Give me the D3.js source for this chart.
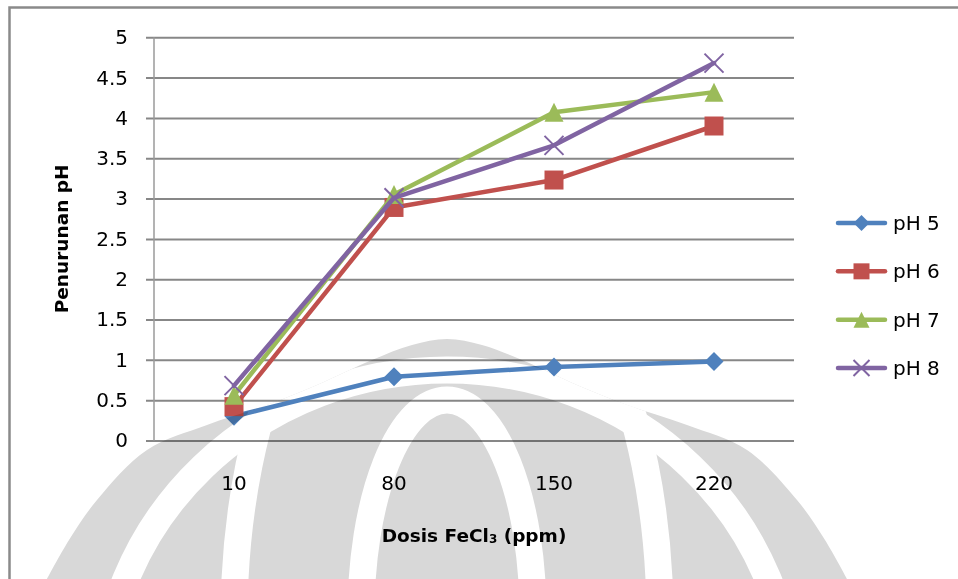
<!DOCTYPE html>
<html>
<head>
<meta charset="utf-8">
<script src="https://cdn.jsdelivr.net/npm/d3@7"></script>
<style>
  body { margin: 0; background: #fff; }
  svg { display: block; }
  text { font-family: "DejaVu Sans", "Noto Sans", sans-serif; fill: #000; }
</style>
</head>
<body>
<svg id="chart" width="958" height="579"></svg>
<script>
// FeCl3 dose (ppm) on the category axis
const categories = ["10", "80", "150", "220"];

// pH drop for each starting pH
const ph5 = [0.30, 0.79, 0.91, 0.98];
const ph6 = [0.42, 2.89, 3.23, 3.90];
const ph7 = [0.56, 3.05, 4.07, 4.32];
const ph8 = [0.68, 3.01, 3.66, 4.68];

const seriesNames = ["pH 5", "pH 6", "pH 7", "pH 8"];
const seriesColors = ["#4F81BD", "#C0504D", "#9BBB59", "#8064A2"];
const markerTypes = ["diamond", "square", "triangle", "cross"];

const yTicks = [0, 0.5, 1, 1.5, 2, 2.5, 3, 3.5, 4, 4.5, 5];

const series = [ph5, ph6, ph7, ph8].map((vals, i) => ({
  name: seriesNames[i], color: seriesColors[i], marker: markerTypes[i],
  points: vals.map((v, j) => ({ cat: categories[j], v }))
}));

const svg = d3.select("#chart");
const plot = { left: 154, right: 794, top: 37.3, bottom: 440.5 };

const x = d3.scaleBand().domain(categories).range([plot.left, plot.right]);
const cx = c => x(c) + x.bandwidth() / 2;
const y = d3.scaleLinear().domain([0, 5]).range([plot.bottom, plot.top]);

// chart frame
svg.append("rect")
  .attr("x", 9.5).attr("y", 7.5).attr("width", 1000).attr("height", 1000)
  .attr("fill", "none").attr("stroke", "#8a8a8a").attr("stroke-width", 2.5);

// value axis with horizontal gridlines
const yAxis = svg.append("g")
  .attr("transform", `translate(${plot.left},0)`)
  .call(d3.axisLeft(y).tickValues(yTicks).tickFormat(d => String(d))
    .tickSizeInner(8).tickSizeOuter(0).tickPadding(18));
yAxis.select(".domain").remove();
yAxis.selectAll(".tick line")
  .attr("x1", plot.right - plot.left)
  .attr("stroke", "#878787").attr("stroke-width", 2);
yAxis.selectAll(".tick text")
  .attr("font-size", 20).attr("font-family", "DejaVu Sans").attr("fill", "#000");

svg.append("line")
  .attr("x1", plot.left).attr("x2", plot.left)
  .attr("y1", y(5)).attr("y2", y(0))
  .attr("stroke", "#9a9a9a").attr("stroke-width", 1.5);

// category axis labels
const xAxis = svg.append("g")
  .attr("transform", `translate(0,${plot.bottom})`)
  .call(d3.axisBottom(x).tickSize(0).tickPadding(35));
xAxis.select(".domain").remove();
xAxis.selectAll(".tick text")
  .attr("font-size", 20).attr("font-family", "DejaVu Sans").attr("fill", "#000");

// axis titles
svg.append("text")
  .attr("transform", `translate(68,${(plot.top + plot.bottom) / 2}) rotate(-90)`)
  .attr("text-anchor", "middle")
  .attr("font-size", 18.5).attr("font-weight", "bold")
  .text("Penurunan pH");

const xt = svg.append("text")
  .attr("x", (plot.left + plot.right) / 2).attr("y", 542)
  .attr("text-anchor", "middle")
  .attr("font-size", 18.5).attr("font-weight", "bold");
xt.append("tspan").text("Dosis FeCl");
xt.append("tspan").attr("font-size", 12).attr("dy", 1).text("3");
xt.append("tspan").attr("dy", -1).text(" (ppm)");

// marker shapes
function markerPath(type, r) {
  switch (type) {
    case "diamond": return `M0,${-r}L${r},0L0,${r}L${-r},0Z`;
    case "square": return `M${-r},${-r}H${r}V${r}H${-r}Z`;
    case "triangle": return `M0,${-r}L${r},${r}L${-r},${r}Z`;
    default: return `M${-r},${-r}L${r},${r}M${-r},${r}L${r},${-r}`;
  }
}
function drawMarker(sel, type, color, r) {
  if (type === "cross") {
    sel.append("path").attr("d", markerPath(type, r))
      .attr("fill", "none").attr("stroke", color).attr("stroke-width", 2);
  } else {
    sel.append("path").attr("d", markerPath(type, r)).attr("fill", color);
  }
}

const line = d3.line().x(d => cx(d.cat)).y(d => y(d.v));

series.forEach(s => {
  const g = svg.append("g");
  g.append("path").datum(s.points).attr("d", line)
    .attr("fill", "none").attr("stroke", s.color).attr("stroke-width", 4.5)
    .attr("stroke-linejoin", "round").attr("stroke-linecap", "round");
  g.selectAll("g.m").data(s.points).join("g")
    .attr("class", "m")
    .attr("transform", d => `translate(${cx(d.cat)},${y(d.v)})`)
    .each(function () { drawMarker(d3.select(this), s.marker, s.color, 9.5); });
});

// legend
const legendY = d3.scalePoint().domain(seriesNames).range([223, 368]);
const legend = svg.append("g");
series.forEach(s => {
  const g = legend.append("g").attr("transform", `translate(0,${legendY(s.name)})`);
  g.append("line").attr("x1", 838).attr("x2", 885)
    .attr("stroke", s.color).attr("stroke-width", 4.5).attr("stroke-linecap", "round");
  const m = g.append("g").attr("transform", "translate(861.5,0)");
  drawMarker(m, s.marker, s.color, 8);
  g.append("text").attr("x", 893).attr("dy", "0.35em")
    .attr("font-size", 20).text(s.name);
});

// faint emblem printed behind the lower part of the page
const mid = 447;
const domePts = [[-400,579],[-378,540],[-350,500],[-300,450],[-240,425],[-180,405],[-130,385],
                 [-75,360],[-35,345],[0,339],[35,345],[75,360],[130,385],[180,405],[240,425],
                 [300,450],[350,500],[378,540],[400,579]];
const domeLine = d3.line().x(p => mid + p[0]).y(p => p[1]).curve(d3.curveCatmullRom);
const domeD = domeLine(domePts) + "L847,600L47,600Z";

const defs = svg.append("defs");
defs.append("clipPath").attr("id", "emblem-clip").append("path").attr("d", domeD);

const emblem = svg.append("g").style("mix-blend-mode", "multiply");
emblem.append("path").attr("d", domeD).attr("fill", "#d8d8d8");
const stripes = emblem.append("g").attr("clip-path", "url(#emblem-clip)")
  .attr("fill", "none").attr("stroke", "#fff").attr("stroke-width", 27);
stripes.append("ellipse").attr("cx", mid).attr("cy", 615).attr("rx", 86).attr("ry", 215);
stripes.append("ellipse").attr("cx", mid).attr("cy", 620).attr("rx", 213).attr("ry", 420);
stripes.append("ellipse").attr("cx", mid).attr("cy", 700).attr("rx", 345).attr("ry", 330);
</script>
</body>
</html>
